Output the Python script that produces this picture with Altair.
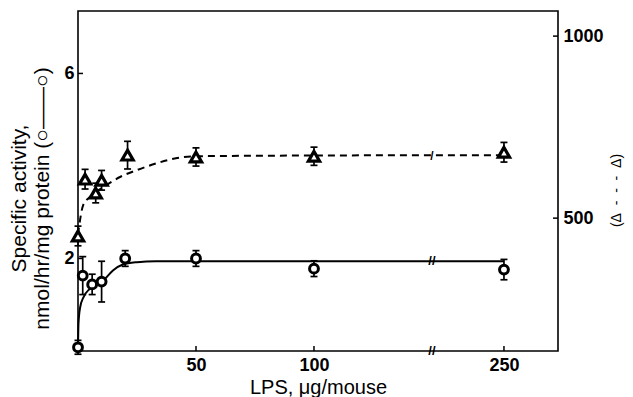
import altair as alt
import pandas as pd

# ---- data ----
# open circles: specific activity (left axis)
circ_dose = [0, 2, 6, 10, 20, 50, 100, 250]
circ_val = [0.08, 1.63, 1.44, 1.50, 2.00, 2.00, 1.78, 1.76]
circ_err = [0.15, 0.41, 0.22, 0.44, 0.17, 0.17, 0.17, 0.22]

# triangles (right axis)
tri_dose = [0, 3, 7.5, 10, 21, 50, 100, 250]
tri_val = [451, 607, 569, 604, 673, 668, 670, 681]
tri_err = [27, 27, 27, 27, 38, 25, 25, 27]

# fitted curves as drawn
solid_dose = [0, 0.2, 0.9, 2.3, 5.1, 10.7, 14.8, 19, 25, 33, 50, 100, 250]
solid_val = [0.08, 0.59, 0.94, 1.16, 1.35, 1.52, 1.74, 1.87, 1.92, 1.94, 1.94, 1.94, 1.94]

dash_dose = [0, 2.2, 5, 10.7, 17.8, 25, 33.5, 42, 50, 100, 250]
dash_val = [455, 536, 558, 585, 613, 632, 651, 665, 670, 672, 673]

x_ticks = [50, 100, 250]
left_ticks = [2, 6]
right_ticks = [500, 1000]

# broken x axis: doses above the break are shifted left
BREAK_AT = 150
BREAK_SHIFT = 69.5


def pos(d):
    return d - BREAK_SHIFT if d > BREAK_AT else d


POS_EXPR = f"datum.dose > {BREAK_AT} ? datum.dose - {BREAK_SHIFT} : datum.dose"

FONT = "Liberation Sans"
NB = "\u00a0"

circ_df = pd.DataFrame({"dose": circ_dose, "val": circ_val, "err": circ_err})
tri_df = pd.DataFrame({"dose": tri_dose, "val": tri_val, "err": tri_err})
solid_df = pd.DataFrame({"dose": solid_dose, "val": solid_val})
dash_df = pd.DataFrame({"dose": dash_dose, "val": dash_val})
xt_df = pd.DataFrame({"dose": x_ticks})
lt_df = pd.DataFrame({"v": left_ticks})
rt_df = pd.DataFrame({"v": right_ticks})

x_scale = alt.Scale(domain=[0, 203.4], nice=False, zero=False)
x_axis = alt.Axis(
    values=[pos(t) for t in x_ticks],
    labelExpr=f"datum.value > {BREAK_AT} ? '250' : datum.label",
    title="LPS, μg/mouse",
    titleFontSize=20,
    titlePadding=3,
    labelPadding=5,
)


def X(field="xpos"):
    return alt.X(field, type="quantitative", scale=x_scale, axis=x_axis)


yl_scale = alt.Scale(domain=[0, 7.35], nice=False, zero=False)
yl_axis = alt.Axis(
    values=left_ticks,
    orient="left",
    title=["Specific activity,", "nmol/hr/mg protein (○——○)"],
    titleFontSize=21,
    titleAngle=270,
    titleX=-49,
    titleY=187,
    titleAlign="center",
    titleBaseline="bottom",
    titleLineHeight=23,
    labelPadding=4,
)
yr_scale = alt.Scale(domain=[135, 1069], nice=False, zero=False)
yr_axis = alt.Axis(
    values=right_ticks,
    orient="right",
    format="d",
    title=f"(Δ{NB}{NB}-{NB}{NB}-{NB}{NB}-{NB}{NB}Δ)",
    titleFontSize=14,
    titleAngle=270,
    titleX=58,
    titleY=179,
    titleAlign="center",
    titleBaseline="middle",
    labelPadding=5,
)


def YL(field):
    return alt.Y(field, type="quantitative", scale=yl_scale, axis=yl_axis)


def YR(field):
    return alt.Y(field, type="quantitative", scale=yr_scale, axis=yr_axis)


def calc(ch):
    return ch.transform_calculate(xpos=POS_EXPR)


# ---- left (circles) ----
solid_line = calc(alt.Chart(solid_df)).mark_line(
    color="black", strokeWidth=2, interpolate="monotone"
).encode(x=X(), y=YL("val"))

circ_base = calc(alt.Chart(circ_df)).transform_calculate(
    lo="datum.val - datum.err", hi="datum.val + datum.err"
)
circ_bar = circ_base.mark_rule(color="black", strokeWidth=1.7).encode(
    x=X(), y=YL("lo"), y2="hi:Q"
)
circ_cap_lo = circ_base.mark_tick(
    color="black", orient="horizontal", size=7, thickness=1.7, opacity=1
).encode(x=X(), y=YL("lo"))
circ_cap_hi = circ_base.mark_tick(
    color="black", orient="horizontal", size=7, thickness=1.7, opacity=1
).encode(x=X(), y=YL("hi"))
circ_pts = circ_base.mark_point(
    shape="circle", filled=True, fill="white", stroke="black",
    strokeWidth=3, size=78, opacity=1,
).encode(x=X(), y=YL("val"))

left_ticks_m = alt.Chart(lt_df).mark_rule(color="black", strokeWidth=1.5).encode(
    y=YL("v"), x=alt.value(0), x2=alt.value(5)
)
bottom_ticks_m = calc(alt.Chart(xt_df)).mark_rule(color="black", strokeWidth=1.5).encode(
    x=X(), y=alt.value(340), y2=alt.value(335)
)
break_left = calc(alt.Chart(pd.DataFrame({"dose": [BREAK_AT, BREAK_AT], "val": [0, 1.94]}))).mark_text(
    text="//", font=FONT, fontSize=13, fontWeight="bold", color="black", baseline="middle"
).encode(x=X(), y=YL("val"))

left = alt.layer(
    solid_line, circ_bar, circ_cap_lo, circ_cap_hi, circ_pts,
    left_ticks_m, bottom_ticks_m, break_left,
)

# ---- right (triangles) ----
dash_line = calc(alt.Chart(dash_df)).mark_line(
    color="black", strokeWidth=2, strokeDash=[7, 5], interpolate="monotone"
).encode(x=X(), y=YR("val"))

tri_base = calc(alt.Chart(tri_df)).transform_calculate(
    lo="datum.val - datum.err", hi="datum.val + datum.err"
)
tri_bar = tri_base.mark_rule(color="black", strokeWidth=1.7).encode(
    x=X(), y=YR("lo"), y2="hi:Q"
)
tri_cap_lo = tri_base.mark_tick(
    color="black", orient="horizontal", size=7, thickness=1.7, opacity=1
).encode(x=X(), y=YR("lo"))
tri_cap_hi = tri_base.mark_tick(
    color="black", orient="horizontal", size=7, thickness=1.7, opacity=1
).encode(x=X(), y=YR("hi"))
tri_pts = tri_base.mark_point(
    shape="triangle-up", filled=True, fill="white", stroke="black",
    strokeWidth=3.2, size=125, opacity=1,
).encode(x=X(), y=YR("val"))

right_ticks_m = alt.Chart(rt_df).mark_rule(color="black", strokeWidth=1.5).encode(
    y=YR("v"), x=alt.value(480), x2=alt.value(475)
)
break_right = calc(alt.Chart(pd.DataFrame({"dose": [BREAK_AT], "val": [672]}))).mark_text(
    text="/", font=FONT, fontSize=12, fontWeight="bold", color="black", baseline="middle"
).encode(x=X(), y=YR("val"))

right = alt.layer(
    dash_line, tri_bar, tri_cap_lo, tri_cap_hi, tri_pts, right_ticks_m, break_right
)

chart = (
    alt.layer(left, right)
    .resolve_scale(y="independent")
    .properties(
        width=480,
        height=340,
        autosize=alt.AutoSizeParams(type="none"),
        padding={"left": 70, "top": 3, "right": 67, "bottom": 46},
        background="white",
    )
    .configure_view(stroke="black", strokeWidth=1.6)
    .configure_axis(
        grid=False,
        ticks=False,
        domain=False,
        labelFont=FONT,
        labelFontSize=18,
        labelFontWeight="bold",
        labelColor="black",
        titleFont=FONT,
        titleFontSize=19,
        titleFontWeight="normal",
        titleColor="black",
    )
)

chart.save("out.html", embed_options={"renderer": "svg", "actions": False})
